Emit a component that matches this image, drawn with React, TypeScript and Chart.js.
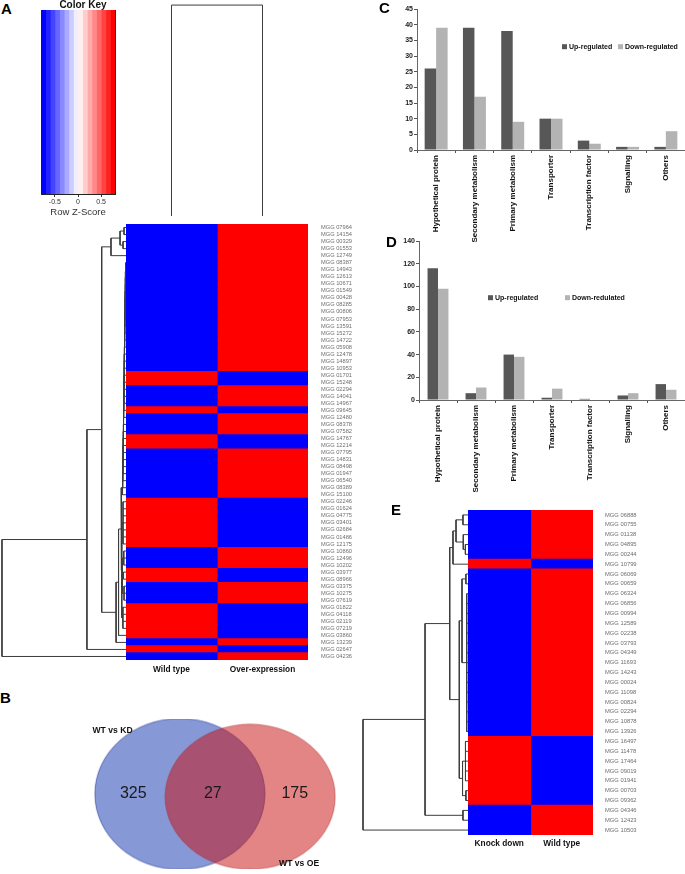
import React, { useEffect, useRef } from 'react';
import { Chart, registerables } from 'chart.js';

Chart.register(...registerables);

const FONT = '"Liberation Sans", Arial, Helvetica, sans-serif';

// ---------------- Panels C and D ----------------
const categories = ['Hypothetical protein', 'Secondary metabolism', 'Primary metabolism', 'Transporter', 'Transcription factor', 'Signalling', 'Others'];
const upRegulatedC = [26, 39, 38, 10, 3, 1, 1];
const downRegulatedC = [39, 17, 9, 10, 2, 1, 6];
const seriesNamesC = ['Up-regulated', 'Down-regulated'];
const yTicksC = [0, 5, 10, 15, 20, 25, 30, 35, 40, 45];

const upRegulatedD = [116, 6, 40, 2, 1, 4, 14];
const downRegulatedD = [98, 11, 38, 10, 0, 6, 9];
const seriesNamesD = ['Up-regulated', 'Down-redulated'];
const yTicksD = [0, 20, 40, 60, 80, 100, 120, 140];

// ---------------- Panel A heatmap ----------------
const genesA = [
  'MGG 07964', 'MGG 14154', 'MGG 00329', 'MGG 01553', 'MGG 12749', 'MGG 08387', 'MGG 14943', 'MGG 12613', 'MGG 10671', 'MGG 01549',
  'MGG 00428', 'MGG 08285', 'MGG 00806', 'MGG 07953', 'MGG 13591', 'MGG 15272', 'MGG 14722', 'MGG 05908', 'MGG 12478', 'MGG 14897',
  'MGG 10953', 'MGG 01701', 'MGG 15248', 'MGG 02294', 'MGG 14041', 'MGG 14967', 'MGG 09645', 'MGG 12480', 'MGG 08378', 'MGG 07582',
  'MGG 14767', 'MGG 12214', 'MGG 07795', 'MGG 14831', 'MGG 08498', 'MGG 01947', 'MGG 06540', 'MGG 08389', 'MGG 15100', 'MGG 02246',
  'MGG 01624', 'MGG 04775', 'MGG 03401', 'MGG 02684', 'MGG 01486', 'MGG 12175', 'MGG 10860', 'MGG 12496', 'MGG 10202', 'MGG 03977',
  'MGG 08966', 'MGG 03375', 'MGG 10275', 'MGG 07619', 'MGG 01822', 'MGG 04118', 'MGG 02119', 'MGG 07219', 'MGG 03860', 'MGG 13239',
  'MGG 02647', 'MGG 04236',
];
const columnsA = ['Wild type', 'Over-expression'];
const B = -0.71;
const R = 0.71;
const zWildTypeA = [
  B, B, B, B, B, B, B, B, B, B,
  B, B, B, B, B, B, B, B, B, B,
  B, R, R, B, B, B, R, B, B, B,
  R, R, B, B, B, B, B, B, B, R,
  R, R, R, R, R, R, B, B, B, R,
  R, B, B, B, R, R, R, R, R, B,
  R, B,
];
const zOverExpressionA = [
  R, R, R, R, R, R, R, R, R, R,
  R, R, R, R, R, R, R, R, R, R,
  R, B, B, R, R, R, B, R, R, R,
  B, B, R, R, R, R, R, R, R, B,
  B, B, B, B, B, B, R, R, R, B,
  B, R, R, R, B, B, B, B, B, R,
  B, R,
];

// ---------------- Panel E heatmap ----------------
const genesE = [
  'MGG 06888', 'MGG 00755', 'MGG 01138', 'MGG 04895', 'MGG 00244', 'MGG 10799', 'MGG 06069', 'MGG 00659', 'MGG 06324', 'MGG 06856',
  'MGG 00994', 'MGG 12589', 'MGG 02238', 'MGG 03793', 'MGG 04349', 'MGG 11693', 'MGG 14243', 'MGG 00024', 'MGG 11098', 'MGG 00824',
  'MGG 02294', 'MGG 10878', 'MGG 13926', 'MGG 16497', 'MGG 11478', 'MGG 17464', 'MGG 09019', 'MGG 01941', 'MGG 00703', 'MGG 09362',
  'MGG 04346', 'MGG 12423', 'MGG 10503',
];
const columnsE = ['Knock down', 'Wild type'];
const zKnockDownE = [
  B, B, B, B, B, R, B, B, B, B,
  B, B, B, B, B, B, B, B, B, B,
  B, B, B, R, R, R, R, R, R, R,
  B, B, B,
];
const zWildTypeE = [
  R, R, R, R, R, B, R, R, R, R,
  R, R, R, R, R, R, R, R, R, R,
  R, R, R, B, B, B, B, B, B, B,
  R, R, R,
];

// ---------------- Colour key ----------------
const keyBreaks = [-0.8, -0.7, -0.6, -0.5, -0.4, -0.3, -0.2, -0.1, 0, 0.1, 0.2, 0.3, 0.4, 0.5, 0.6, 0.7, 0.8];
const keyColors = ['#0000FF', '#2222FF', '#4444FF', '#6666FF', '#8888FF', '#AAAAFF', '#CCCCFF', '#EEEEFF',
  '#FFEEEE', '#FFCCCC', '#FFAAAA', '#FF8888', '#FF6666', '#FF4444', '#FF2222', '#FF0000'];
const keyTicks = [-0.5, 0, 0.5];

// ---------------- Dendrograms: [height, ...children], leaves = row numbers ----------------
// sequential (caterpillar) merge of rows 6..39 in panel A, with its merge heights
const combLeavesA = [6, 7, 8, 9, 10, 11, 12, 13, 14, 15, 16, 17, 18, 19, 20, 21, 22, 23, 24, 25, 26, 27, 28, 29, 30, 31, 32, 33, 34, 35, 36, 37, 38, 39];
const combHeightsA = [0.3, 0.4, 0.5, 0.5, 0.6, 0.7, 0.8, 0.8, 0.9, 1.0, 1.1, 1.1, 1.2, 1.3, 1.4, 1.4, 1.5, 1.6, 1.7, 1.7, 1.8, 1.9, 2.0, 2.0, 2.1, 2.2, 2.3, 2.3, 2.4, 2.5, 2.6, 2.7, 2.8];
const rowTreeA = [100,
  [31.5,
    [19.6,
      [12.1, [4.8, [1.6, 1, 2], [2.4, 3, 4]], 5],
      [8.0,
        [6.0,
          [4.0,
            { heights: combHeightsA, leaves: combLeavesA },
            [3.4, [2.4, 40, 41, 42, 43, 44, 45, 46], [3.0, [1.8, 47, 48, 49], [2.0, 50, 51], [1.6, 52, 53, 54]], [2.5, 55, 56, 57, 58]]],
          59],
        60]],
    61],
  62];
const colTreeA = [100, 1, 2];
const rowTreeE = [100,
  [40.9,
    [17.4,
      [14.3, [11.4, [4.8, 1, 2], [4.5, 3, [2.5, 4, 5]]], 6],
      [8.3,
        [5.7, [2.0, 7, 8], [1.2, 9, 10, 11, 12, 13, 14, 15, 16, 17, 18, 19, 20, 21, 22, 23]],
        [5.2, [2.4, 24, 25, 26, 27, 28], [2.0, 29, 30]]]],
    [4.8, 31, 32]],
  33];

// ---------------- Panel B Venn ----------------
const vennSets = ['WT vs KD', 'WT vs OE'];
const vennCounts = [325, 27, 175];

// ================= helpers =================
function zColor(z: number) {
  for (let i = 0; i < keyColors.length; i++) {
    if (z >= keyBreaks[i] && z < keyBreaks[i + 1]) return keyColors[i];
  }
  return z < 0 ? keyColors[0] : keyColors[keyColors.length - 1];
}

const noPlugins = { legend: { display: false }, tooltip: { enabled: false } };

const insideLegend = {
  id: 'insideLegend',
  afterDraw(chart: any, _a: any, o: any) {
    const { ctx } = chart;
    ctx.save();
    ctx.font = `bold ${o.size}px ${FONT}`;
    ctx.textBaseline = 'middle';
    ctx.textAlign = 'left';
    chart.data.datasets.forEach((ds: any, i: number) => {
      const x = o.x[i];
      ctx.fillStyle = ds.backgroundColor;
      ctx.fillRect(x, o.y - o.box / 2, o.box, o.box);
      ctx.fillStyle = '#111';
      ctx.fillText(ds.label, x + o.box + o.gap, o.y);
    });
    ctx.restore();
  },
};

function barConfig(up: number[], down: number[], names: string[], ticks: number[], yAxisWidth: number, xAxisHeight: number, catPct: number, legendX: number[], legendY: number) {
  return {
    type: 'bar',
    data: {
      labels: categories,
      datasets: [
        { label: names[0], data: up, backgroundColor: '#575757', barPercentage: 1, categoryPercentage: catPct, borderWidth: 0 },
        { label: names[1], data: down, backgroundColor: '#b3b3b3', barPercentage: 1, categoryPercentage: catPct, borderWidth: 0 },
      ],
    },
    options: {
      responsive: false,
      animation: false,
      layout: { padding: { top: 9, left: 0, right: 0, bottom: 0 } },
      plugins: { ...noPlugins, insideLegend: { x: legendX, y: legendY, size: 7, box: 5, gap: 2 } },
      scales: {
        x: {
          grid: { display: true, drawOnChartArea: false, drawTicks: true, tickLength: 3, color: '#555', offset: true },
          border: { display: true, color: '#666', width: 1 },
          ticks: { minRotation: 90, maxRotation: 90, autoSkip: false, padding: 2, color: '#111', font: { family: FONT, size: 8, weight: 'bold' } },
          afterFit: (s: any) => { s.height = xAxisHeight; s.paddingLeft = 0; s.paddingRight = 0; },
        },
        y: {
          min: ticks[0],
          max: ticks[ticks.length - 1],
          afterBuildTicks: (s: any) => { s.ticks = ticks.map((v) => ({ value: v })); },
          grid: { display: true, drawOnChartArea: false, drawTicks: true, tickLength: 3, color: '#555' },
          border: { display: true, color: '#666', width: 1 },
          ticks: { padding: 1, color: '#222', font: { family: FONT, size: 7, weight: 'bold' } },
          afterFit: (s: any) => { s.width = yAxisWidth; s.paddingTop = 0; s.paddingBottom = 0; },
        },
      },
    },
    plugins: [insideLegend],
  };
}

function heatmapConfig(genes: string[], columns: string[], z: number[][], yAxisWidth: number, labelPad: number, xAxisHeight: number, colPad: number, rowFont: number) {
  return {
    type: 'bar',
    data: {
      labels: genes,
      datasets: columns.map((name, c) => ({
        label: name,
        data: genes.map(() => [c, c + 1]),
        backgroundColor: z[c].map(zColor),
        grouped: false,
        barPercentage: 1,
        categoryPercentage: 1,
        borderWidth: 0,
        inflateAmount: 0.6,
      })),
    },
    options: {
      indexAxis: 'y',
      responsive: false,
      animation: false,
      layout: { padding: 0 },
      plugins: noPlugins,
      scales: {
        y: {
          type: 'category',
          position: 'right',
          grid: { display: false, drawTicks: false },
          border: { display: false },
          ticks: { autoSkip: false, padding: labelPad, color: '#6e6e6e', font: { family: FONT, size: rowFont } },
          afterFit: (s: any) => { s.width = yAxisWidth; s.paddingTop = 0; s.paddingBottom = 0; },
        },
        x: {
          type: 'linear',
          min: 0,
          max: columns.length,
          position: 'bottom',
          grid: { display: false, drawTicks: false },
          border: { display: false },
          afterBuildTicks: (s: any) => { s.ticks = columns.map((_, c) => ({ value: c + 0.5 })); },
          ticks: { padding: colPad, color: '#111', font: { family: FONT, size: 8.3, weight: 'bold' }, callback: (v: number) => columns[Math.round(v - 0.5)] },
          afterFit: (s: any) => { s.height = xAxisHeight; s.paddingLeft = 0; s.paddingRight = 0; },
        },
      },
    },
  };
}

function dendroPoints(tree: any, horizontal: boolean) {
  const pts: any[] = [];
  const P = (h: number, pos: number) => (horizontal ? { x: h, y: pos } : { x: pos, y: h });
  const gap = { x: NaN, y: NaN };
  const link = (h: number, a: any, b: any) => {
    pts.push(P(a.h, a.pos), P(h, a.pos), P(h, b.pos), P(b.h, b.pos), gap);
  };
  const walk = (node: any): { h: number; pos: number } => {
    if (typeof node === 'number') return { h: 0, pos: node - 0.5 };
    if (!Array.isArray(node)) {
      let acc = walk(node.leaves[0]);
      for (let i = 1; i < node.leaves.length; i++) {
        const nxt = walk(node.leaves[i]);
        const h = node.heights[i - 1];
        link(h, acc, nxt);
        acc = { h, pos: (acc.pos + nxt.pos) / 2 };
      }
      return acc;
    }
    const [h, ...kids] = node;
    const r = kids.map(walk);
    const first = r[0];
    const last = r[r.length - 1];
    link(h, first, last);
    r.slice(1, -1).forEach((k: any) => pts.push(P(k.h, k.pos), P(h, k.pos), gap));
    return { h, pos: (first.pos + last.pos) / 2 };
  };
  walk(tree);
  return pts;
}

function dendroConfig(tree: any, leaves: number, maxH: number, horizontal: boolean) {
  return {
    type: 'scatter',
    data: {
      datasets: [{
        data: dendroPoints(tree, horizontal),
        showLine: true,
        spanGaps: false,
        borderColor: '#3c3c3c',
        borderWidth: 1,
        pointRadius: 0,
        pointHoverRadius: 0,
        clip: 3,
      }],
    },
    options: {
      responsive: false,
      animation: false,
      layout: { padding: 0 },
      plugins: noPlugins,
      scales: horizontal
        ? {
          x: { type: 'linear', display: false, min: 0, max: maxH, reverse: true },
          y: { type: 'linear', display: false, min: 0, max: leaves, reverse: true },
        }
        : {
          x: { type: 'linear', display: false, min: 0, max: leaves },
          y: { type: 'linear', display: false, min: 0, max: maxH },
        },
    },
  };
}

function colorKeyConfig() {
  return {
    type: 'bar',
    data: {
      labels: [''],
      datasets: keyColors.map((col, i) => ({
        data: [[keyBreaks[i], keyBreaks[i + 1]]],
        backgroundColor: col,
        grouped: false,
        barPercentage: 1,
        categoryPercentage: 1,
        borderWidth: 0,
        inflateAmount: 0.4,
      })),
    },
    options: {
      indexAxis: 'y',
      responsive: false,
      animation: false,
      layout: { padding: { left: 11, top: 0, right: 0, bottom: 0 } },
      plugins: {
        ...noPlugins,
        title: { display: true, text: 'Color Key', padding: 0, color: '#111', font: { family: FONT, size: 10, weight: 'bold', lineHeight: 1 } },
      },
      scales: {
        x: {
          type: 'linear',
          min: keyBreaks[0],
          max: keyBreaks[keyBreaks.length - 1],
          afterBuildTicks: (s: any) => { s.ticks = keyTicks.map((v) => ({ value: v })); },
          grid: { display: true, drawOnChartArea: false, drawTicks: true, tickLength: 3, color: '#333' },
          border: { display: true, color: '#222' },
          ticks: { padding: 1, color: '#333', font: { family: FONT, size: 7 }, callback: (v: number) => String(v) },
          title: { display: true, text: 'Row Z-Score', padding: 0, color: '#333', font: { family: FONT, size: 9.5 } },
          afterFit: (s: any) => { s.height = 24; s.paddingLeft = 0; s.paddingRight = 0; },
        },
        y: {
          position: 'right',
          grid: { display: false, drawTicks: false },
          border: { display: true, color: '#222' },
          ticks: { display: false },
          afterFit: (s: any) => { s.width = 10; s.paddingTop = 0; s.paddingBottom = 0; },
        },
      },
    },
  };
}

function ellipseSprite(rx: number, ry: number, fill: string, stroke: string) {
  const c = document.createElement('canvas');
  c.width = Math.ceil(rx * 2) + 2;
  c.height = Math.ceil(ry * 2) + 2;
  const g = c.getContext('2d')!;
  g.beginPath();
  g.ellipse(c.width / 2, c.height / 2, rx, ry, 0, 0, Math.PI * 2);
  g.fillStyle = fill;
  g.fill();
  g.strokeStyle = stroke;
  g.lineWidth = 1;
  g.stroke();
  return c;
}

const vennText = {
  id: 'vennText',
  afterDatasetsDraw(chart: any, _a: any, o: any) {
    const { ctx, scales } = chart;
    const { x, y } = scales;
    ctx.save();
    ctx.textAlign = 'center';
    ctx.textBaseline = 'middle';
    ctx.fillStyle = '#1a1a1a';
    ctx.font = `16px ${FONT}`;
    vennCounts.forEach((n, i) => ctx.fillText(String(n), x.getPixelForValue(o.countPos[i][0]), y.getPixelForValue(o.countPos[i][1])));
    ctx.font = `bold 8.6px ${FONT}`;
    ctx.fillStyle = '#111';
    vennSets.forEach((s, i) => ctx.fillText(s, x.getPixelForValue(o.setPos[i][0]), y.getPixelForValue(o.setPos[i][1])));
    ctx.restore();
  },
};

function vennConfig() {
  return {
    type: 'scatter',
    data: {
      datasets: [
        { label: vennSets[0], data: [{ x: -0.43, y: 0 }], order: 1, pointRadius: 1, pointStyle: ellipseSprite(85, 75.5, 'rgba(15,49,173,0.5)', 'rgba(40,60,150,0.6)') },
        { label: vennSets[1], data: [{ x: 0.43, y: -0.035 }], order: 0, pointRadius: 1, pointStyle: ellipseSprite(85, 72.5, 'rgba(201,11,11,0.5)', 'rgba(170,40,40,0.5)') },
      ],
    },
    options: {
      responsive: false,
      animation: false,
      layout: { padding: 0 },
      plugins: {
        ...noPlugins,
        vennText: { countPos: [[-1.0, 0.01], [-0.027, 0.01], [0.976, 0.01]], setPos: [[-1.254, 0.8], [1.03, -0.873]] },
      },
      scales: {
        x: { type: 'linear', display: false, min: -1.53, max: 1.53 },
        y: { type: 'linear', display: false, min: -0.941, max: 0.941 },
      },
    },
    plugins: [vennText],
  };
}

// ================= components =================
type Box = { left: number; top: number; width: number; height: number };

function ChartCanvas({ box, build }: { box: Box; build: () => any }) {
  const ref = useRef<HTMLCanvasElement | null>(null);
  useEffect(() => {
    if (!ref.current) return undefined;
    const chart = new Chart(ref.current, build());
    return () => chart.destroy();
  }, []);
  return (
    <canvas
      ref={ref}
      width={box.width}
      height={box.height}
      style={{ position: 'absolute', left: box.left, top: box.top, width: box.width, height: box.height, display: 'block' }}
    />
  );
}

function Letter({ text, left, top }: { text: string; left: number; top: number }) {
  return (
    <div style={{ position: 'absolute', left, top, fontFamily: FONT, fontWeight: 'bold', fontSize: 15, lineHeight: '15px', color: '#000' }}>
      {text}
    </div>
  );
}

export default function App() {
  return (
    <div style={{ position: 'absolute', left: 0, top: 0, width: 685, height: 874, overflow: 'hidden', background: '#fff' }}>
      <ChartCanvas box={{ left: 30, top: 0, width: 95, height: 218 }} build={colorKeyConfig} />
      <ChartCanvas box={{ left: 126, top: 0, width: 182, height: 216 }} build={() => dendroConfig(colTreeA, 2, 102.4, false)} />
      <ChartCanvas box={{ left: 0, top: 224, width: 126, height: 436 }} build={() => dendroConfig(rowTreeA, genesA.length, 101.6, true)} />
      <ChartCanvas box={{ left: 126, top: 224, width: 240, height: 456 }} build={() => heatmapConfig(genesA, columnsA, [zWildTypeA, zOverExpressionA], 58, 13, 20, 5, 5.7)} />
      <ChartCanvas box={{ left: 380, top: 0, width: 305, height: 262 }} build={() => barConfig(upRegulatedC, downRegulatedC, seriesNamesC, yTicksC, 37, 112, 0.6, [182, 238], 46.7)} />
      <ChartCanvas box={{ left: 380, top: 232, width: 305, height: 272 }} build={() => barConfig(upRegulatedD, downRegulatedD, seriesNamesD, yTicksD, 39, 104, 0.55, [108, 185], 65.7)} />
      <ChartCanvas box={{ left: 360, top: 510, width: 108, height: 325 }} build={() => dendroConfig(rowTreeE, genesE.length, 102.86, true)} />
      <ChartCanvas box={{ left: 468, top: 510, width: 217, height: 364 }} build={() => heatmapConfig(genesE, columnsE, [zKnockDownE, zWildTypeE], 92, 12, 39, 4, 5.8)} />
      <ChartCanvas box={{ left: 85, top: 714, width: 260, height: 160 }} build={vennConfig} />
      <Letter text="A" left={1} top={1} />
      <Letter text="B" left={0} top={690} />
      <Letter text="C" left={379} top={0} />
      <Letter text="D" left={386} top={234} />
      <Letter text="E" left={391} top={502} />
    </div>
  );
}
